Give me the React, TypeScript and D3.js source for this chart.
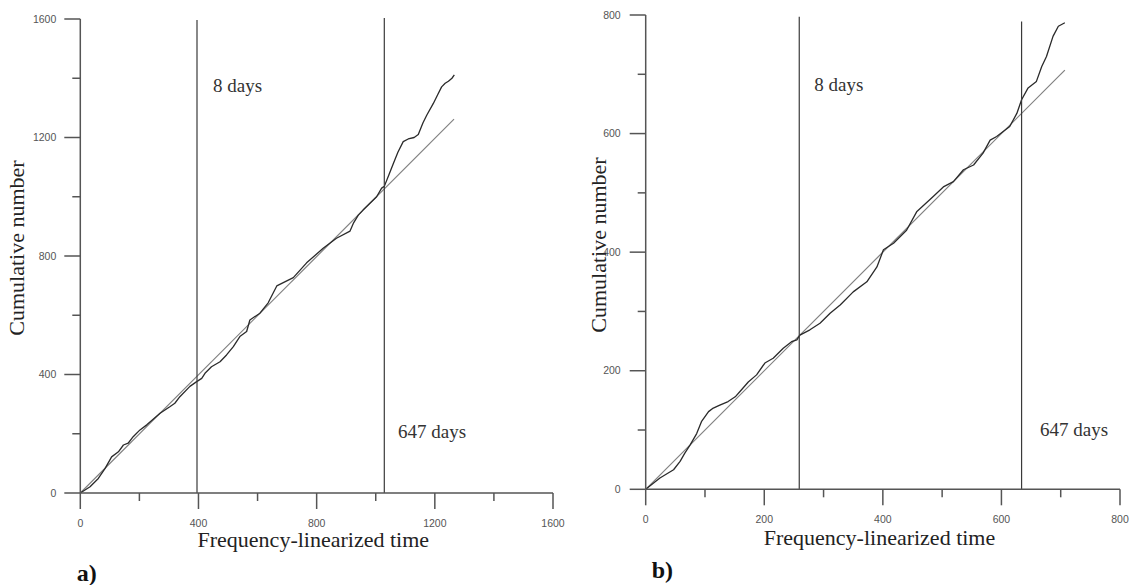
import React from "react";
import * as d3 from "d3";

// ---------- Data: panel a ----------
const curveA_x = [0, 33, 61, 84, 106, 129, 146, 162, 179, 202, 225, 270, 303, 320, 337, 371, 394, 411, 422, 444, 473, 495, 518, 540, 563, 574, 608, 636, 665, 721, 766, 822, 867, 913, 924, 941, 957, 1003, 1020, 1029, 1045, 1060, 1075, 1093, 1110, 1130, 1144, 1160, 1173, 1195, 1210, 1223, 1235, 1246, 1258, 1266];
const curveA_y = [0, 21, 49, 83, 122, 139, 162, 168, 190, 213, 230, 269, 291, 303, 325, 360, 376, 387, 404, 426, 443, 466, 494, 528, 545, 584, 607, 642, 699, 727, 777, 826, 860, 884, 910, 938, 955, 1000, 1029, 1035, 1075, 1113, 1150, 1186, 1195, 1200, 1210, 1250, 1276, 1315, 1345, 1371, 1383, 1390, 1400, 1411];
const fitA_x = [0, 1265];
const fitA_y = [0, 1262];
const markersA = [395, 1029];
const markerTopA = [1597, 1603];
const ticksA_major = [0, 400, 800, 1200, 1600];
const ticksA_minor = [200, 600, 1000, 1400];

// ---------- Data: panel b ----------
const curveB_x = [0, 24, 47, 58, 66, 75, 86, 94, 106, 114, 125, 139, 151, 159, 173, 187, 201, 215, 232, 246, 255, 260, 277, 294, 311, 328, 350, 373, 390, 401, 418, 440, 457, 485, 502, 519, 536, 553, 569, 581, 592, 614, 626, 634, 645, 659, 668, 676, 687, 696, 707];
const curveB_y = [0, 19, 33, 47, 61, 75, 94, 114, 131, 137, 142, 148, 156, 165, 181, 193, 213, 221, 238, 249, 252, 260, 269, 280, 297, 311, 333, 350, 375, 404, 415, 437, 468, 494, 510, 519, 539, 547, 567, 589, 595, 612, 634, 657, 677, 688, 713, 730, 764, 781, 787];
const fitB_x = [0, 707];
const fitB_y = [0, 707];
const markersB = [259, 634];
const markerTopB = [797, 789];
const ticksB_major = [0, 200, 400, 600, 800];
const ticksB_minor = [100, 300, 500, 700];

const markerLabels = ["8 days", "647 days"];
const xTitle = "Frequency-linearized time";
const yTitle = "Cumulative number";
const panelTags = ["a)", "b)"];

const AXIS = "#555";
const SANS = "'Liberation Sans', Arial, sans-serif";
const SERIF = "'Liberation Serif', 'Times New Roman', serif";

type PanelProps = {
  domainMax: number;
  xRange: [number, number];
  yRange: [number, number];
  cx: number[];
  cy: number[];
  fx: number[];
  fy: number[];
  markers: number[];
  markerTop: number[];
  major: number[];
  minor: number[];
  layout: {
    xLabelY: number;
    yLabelGap: number;
    xTitleX: number;
    xTitleY: number;
    yTitleX: number;
    yTitleY: number;
    lab1: [number, number];
    lab2: [number, number];
    tag: [number, number];
    tagText: string;
  };
};

function Panel(p: PanelProps) {
  const x = d3.scaleLinear().domain([0, p.domainMax]).range(p.xRange);
  const y = d3.scaleLinear().domain([0, p.domainMax]).range(p.yRange);
  const line = d3
    .line<[number, number]>()
    .x((d) => x(d[0]))
    .y((d) => y(d[1]));
  const curvePts = p.cx.map((v, i) => [v, p.cy[i]] as [number, number]);
  const fitPts = p.fx.map((v, i) => [v, p.fy[i]] as [number, number]);
  const x0 = x(0);
  const y0 = y(0);
  const L = p.layout;
  return (
    <g>
      {/* fit line */}
      <path d={line(fitPts) || ""} fill="none" stroke="#808080" strokeWidth={1.2} />
      {/* cumulative curve */}
      <path d={line(curvePts) || ""} fill="none" stroke="#2a2a2a" strokeWidth={1.3} strokeLinejoin="round" />
      {/* vertical markers */}
      {p.markers.map((m, i) => (
        <line key={"m" + i} x1={x(m)} x2={x(m)} y1={y(p.markerTop[i])} y2={y0} stroke="#3a3a3a" strokeWidth={1.2} />
      ))}
      {/* axes */}
      <line x1={x0} x2={x(p.domainMax)} y1={y0} y2={y0} stroke={AXIS} strokeWidth={1.5} />
      <line x1={x0} x2={x0} y1={y0} y2={y(p.domainMax)} stroke={AXIS} strokeWidth={1.5} />
      {p.major.map((t) => (
        <g key={"xM" + t}>
          <line x1={x(t)} x2={x(t)} y1={y0} y2={y0 + 16} stroke={AXIS} strokeWidth={1.5} />
          <text x={x(t)} y={L.xLabelY} fontFamily={SANS} fontSize={10.5} fill={AXIS} textAnchor="middle">
            {t}
          </text>
        </g>
      ))}
      {p.minor.map((t) => (
        <line key={"xm" + t} x1={x(t)} x2={x(t)} y1={y0} y2={y0 + 8} stroke={AXIS} strokeWidth={1.5} />
      ))}
      {p.major.map((t) => (
        <g key={"yM" + t}>
          <line x1={x0 - 16} x2={x0} y1={y(t)} y2={y(t)} stroke={AXIS} strokeWidth={1.5} />
          <text x={x0 - L.yLabelGap} y={y(t) + 3.7} fontFamily={SANS} fontSize={10.5} fill={AXIS} textAnchor="end">
            {t}
          </text>
        </g>
      ))}
      {p.minor.map((t) => (
        <line key={"ym" + t} x1={x0 - 8} x2={x0} y1={y(t)} y2={y(t)} stroke={AXIS} strokeWidth={1.5} />
      ))}
      {/* titles */}
      <text x={L.xTitleX} y={L.xTitleY} fontFamily={SERIF} fontSize={22} fill="#222" textAnchor="middle">
        {xTitle}
      </text>
      <text
        transform={`translate(${L.yTitleX},${L.yTitleY}) rotate(-90)`}
        fontFamily={SERIF}
        fontSize={22}
        fill="#222"
        textAnchor="middle"
      >
        {yTitle}
      </text>
      <text x={L.lab1[0]} y={L.lab1[1]} fontFamily={SERIF} fontSize={19} fill="#333">
        {markerLabels[0]}
      </text>
      <text x={L.lab2[0]} y={L.lab2[1]} fontFamily={SERIF} fontSize={19} fill="#333">
        {markerLabels[1]}
      </text>
      <text x={L.tag[0]} y={L.tag[1]} fontFamily={SERIF} fontSize={24} fontWeight="bold" fill="#111">
        {L.tagText}
      </text>
    </g>
  );
}

export default function App() {
  return (
    <svg width={1133} height={585} style={{ position: "absolute", left: 0, top: 0, background: "#fff" }}>
      <rect x={0} y={0} width={1133} height={585} fill="#fff" />
      <Panel
        domainMax={1600}
        xRange={[80.3, 553]}
        yRange={[493, 19]}
        cx={curveA_x}
        cy={curveA_y}
        fx={fitA_x}
        fy={fitA_y}
        markers={markersA}
        markerTop={markerTopA}
        major={ticksA_major}
        minor={ticksA_minor}
        layout={{
          xLabelY: 526.5,
          yLabelGap: 24,
          xTitleX: 313.3,
          xTitleY: 547,
          yTitleX: 23.5,
          yTitleY: 248,
          lab1: [213, 91.5],
          lab2: [398, 438],
          tag: [76.7, 581],
          tagText: panelTags[0],
        }}
      />
      <Panel
        domainMax={800}
        xRange={[645.7, 1120]}
        yRange={[489.3, 15]}
        cx={curveB_x}
        cy={curveB_y}
        fx={fitB_x}
        fy={fitB_y}
        markers={markersB}
        markerTop={markerTopB}
        major={ticksB_major}
        minor={ticksB_minor}
        layout={{
          xLabelY: 523,
          yLabelGap: 25,
          xTitleX: 879.5,
          xTitleY: 545,
          yTitleX: 605.5,
          yTitleY: 245,
          lab1: [814.3, 90.5],
          lab2: [1040, 436],
          tag: [651.7, 578],
          tagText: panelTags[1],
        }}
      />
    </svg>
  );
}
